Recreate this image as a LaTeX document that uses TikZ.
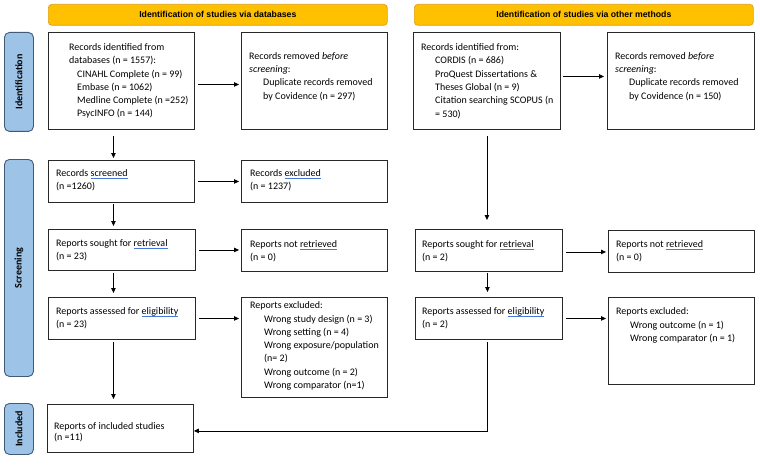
\documentclass[tikz,border=0pt]{standalone}
\usepackage{fontspec}
\setmainfont{Carlito}
\newfontfamily\hdrfont{Liberation Sans}
\usetikzlibrary{arrows.meta}
\definecolor{hdrfill}{RGB}{255,192,0}
\definecolor{hdrdraw}{RGB}{222,160,20}
\definecolor{sidefill}{RGB}{157,195,230}
\definecolor{sidedraw}{RGB}{65,90,120}
\definecolor{squig}{RGB}{70,120,220}
\definecolor{boxdraw}{RGB}{40,40,40}
\newcommand\spl[1]{\setbox0\hbox{#1}\rlap{\raisebox{-2.3pt}{\color{squig}\rule{\wd0}{0.7pt}}}\box0}
\newcommand\ind{\hspace*{14pt}}
\begin{document}
\begin{tikzpicture}[x=1pt,y=-1pt,
  box/.style={draw=boxdraw, line width=0.9pt, rectangle, anchor=north west, inner sep=0pt},
  txt/.style={anchor=west, inner sep=0pt, align=left, font={\fontsize{10}{13.3}\selectfont}},
  hdr/.style={draw=hdrdraw, fill=hdrfill, line width=0.7pt, rounded corners=3.5pt, anchor=north west, inner sep=0pt, font={\hdrfont\bfseries\fontsize{8.7}{10}\selectfont}},
  side/.style={draw=sidedraw, fill=sidefill, line width=0.9pt, rounded corners=5pt, anchor=north west, inner sep=0pt},
  sidetxt/.style={rotate=90, font={\bfseries\fontsize{10}{12}\selectfont}, inner sep=0pt},
  arr/.style={draw=black, line width=0.8pt, -{Triangle[length=5pt,width=4.5pt]}}
]
\useasboundingbox (0,0) rectangle (760,468);

% headers
\node[hdr, minimum width=339pt, minimum height=21pt] (H1) at (48,4) {Identification of studies via databases};
\node[hdr, minimum width=339pt, minimum height=21pt] (H2) at (414,4) {Identification of studies via other methods};

% side labels
\node[side, minimum width=29pt, minimum height=99pt] (S_id) at (4,32) {};
\node[sidetxt] (S_idt) at (S_id.center) {Identification};
\node[side, minimum width=29pt, minimum height=217pt] (S_sc) at (4,159) {};
\node[sidetxt] (S_sct) at (S_sc.center) {Screening};
\node[side, minimum width=29pt, minimum height=51pt] (S_in) at (4,403) {};
\node[sidetxt] (S_int) at (S_in.center) {Included};

% left column boxes
\node[box, minimum width=146pt, minimum height=97pt] (A) at (48,32) {};
\node[txt] (At) at (69,81) {Records identified from\\databases (n = 1557):\\\hspace*{8pt}CINAHL Complete (n = 99)\\\hspace*{8pt}Embase (n = 1062)\\\hspace*{8pt}Medline Complete (n =252)\\\hspace*{8pt}PsycINFO (n = 144)};

\node[box, minimum width=146pt, minimum height=97pt] (B) at (241,32) {};
\node[txt] (Bt) at (249,76.5) {Records removed \textit{before}\\\textit{screening}:\\\ind Duplicate records removed\\\ind by Covidence (n = 297)};

\node[box, minimum width=146pt, minimum height=42pt] (S1) at (48,160) {};
\node[txt] (S1t) at (56,180.5) {Records \spl{screened}\\(n =1260)};

\node[box, minimum width=146pt, minimum height=42pt] (E1) at (241,160) {};
\node[txt] (E1t) at (250,180.5) {Records \spl{excluded}\\(n = 1237)};

\node[box, minimum width=147pt, minimum height=41pt] (R1) at (48,229) {};
\node[txt] (R1t) at (56,250) {Reports sought for \spl{retrieval}\\(n = 23)};

\node[box, minimum width=146pt, minimum height=42pt] (N1) at (241,229) {};
\node[txt] (N1t) at (250,251) {Reports not \spl{retrieved}\\(n = 0)};

\node[box, minimum width=147pt, minimum height=42pt] (L1) at (48,297) {};
\node[txt] (L1t) at (56,318.5) {Reports assessed for \spl{eligibility}\\(n = 23)};

\node[box, minimum width=146pt, minimum height=100pt] (X1) at (241,297) {};
\node[txt] (X1t) at (250,346) {Reports excluded:\\\ind Wrong study design (n = 3)\\\ind Wrong setting (n = 4)\\\ind Wrong exposure/population\\\ind (n= 2)\\\ind Wrong outcome (n = 2)\\\ind Wrong comparator (n=1)};

\node[box, minimum width=146pt, minimum height=48pt] (I) at (47,404) {};
\node[txt, font={\fontsize{10}{11}\selectfont}] (It) at (54,432.5) {Reports of included studies\\(n =11)};

% right column boxes
\node[box, minimum width=147pt, minimum height=97pt] (C) at (413,32) {};
\node[txt] (Ct) at (421,81) {Records identified from:\\\ind CORDIS (n = 686)\\\ind ProQuest Dissertations \&\\\ind Theses Global (n = 9)\\\ind Citation searching SCOPUS (n\\\ind = 530)};

\node[box, minimum width=147pt, minimum height=97pt] (D) at (607,32) {};
\node[txt] (Dt) at (615,76.5) {Records removed \textit{before}\\\textit{screening}:\\\ind Duplicate records removed\\\ind by Covidence (n = 150)};

\node[box, minimum width=147pt, minimum height=42pt] (R2) at (415,229) {};
\node[txt] (R2t) at (422,251) {Reports sought for \spl{retrieval}\\(n = 2)};

\node[box, minimum width=146pt, minimum height=42pt] (N2) at (608,230) {};
\node[txt] (N2t) at (616,251.5) {Reports not \spl{retrieved}\\(n = 0)};

\node[box, minimum width=147pt, minimum height=42pt] (L2) at (415,297) {};
\node[txt] (L2t) at (422,318.5) {Reports assessed for \spl{eligibility}\\(n = 2)};

\node[box, minimum width=146pt, minimum height=87pt] (X2) at (608,297) {};
\node[txt] (X2t) at (616,325.5) {Reports excluded:\\\ind Wrong outcome (n = 1)\\\ind Wrong comparator (n = 1)};

% connectors
\draw[arr, shorten <=3pt, shorten >=2pt] ([yshift=-3.5pt]A.east) -- ([yshift=-3.5pt]B.west);
\draw[arr, shorten <=2pt, shorten >=3pt] ([yshift=4.5pt]C.east) -- ([yshift=4.5pt]C.east -| D.west);
\draw[arr, shorten <=6pt, shorten >=2pt] ([xshift=-8pt]A.south) -- ([xshift=-8pt]A.south |- S1.north);
\draw[arr, shorten <=3pt, shorten >=2pt] (S1.east) -- (S1.east -| E1.west);
\draw[arr, shorten <=1pt, shorten >=3pt] ([xshift=-8pt]S1.south) -- ([xshift=-8pt]S1.south |- R1.north);
\draw[arr, shorten <=3pt, shorten >=2pt] (R1.east) -- (R1.east -| N1.west);
\draw[arr, shorten <=2pt, shorten >=4pt] ([xshift=-8.5pt]R1.south) -- ([xshift=-8.5pt]R1.south |- L1.north);
\draw[arr, shorten <=3pt, shorten >=2pt] (L1.east) -- (L1.east -| X1.west);
\draw[arr, shorten <=2pt, shorten >=5pt] ([xshift=-8.5pt]L1.south) -- ([xshift=-8.5pt]L1.south |- I.north);
\draw[arr, shorten <=6pt, shorten >=9pt] (C.south) -- (C.south |- R2.north);
\draw[arr, shorten <=3pt, shorten >=2pt] ([yshift=-1.5pt]R2.east) -- ([yshift=-1.5pt]R2.east -| N2.west);
\draw[arr, shorten <=1pt, shorten >=5pt] ([xshift=-1.5pt]R2.south) -- ([xshift=-1.5pt]R2.south |- L2.north);
\draw[arr, shorten <=3pt, shorten >=2pt] (L2.east) -- (L2.east -| X2.west);
\coordinate (corner) at ([xshift=-1.5pt,yshift=-91pt]L2.south);
\draw[arr, shorten <=2pt] ([xshift=-1.5pt]L2.south) -- (corner) -- (corner -| I.east);
\end{tikzpicture}
\end{document}
